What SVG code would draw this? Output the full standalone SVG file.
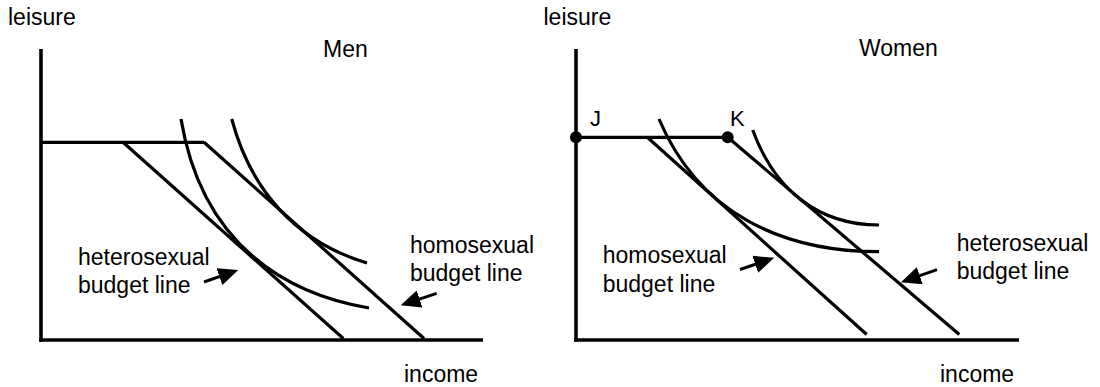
<svg xmlns="http://www.w3.org/2000/svg" width="1100" height="387" viewBox="0 0 1100 387">
<style>
  text { font-family: "Liberation Sans", Arial, Helvetica, sans-serif; font-size: 23px; fill: #000; }
  .pt { font-size: 22px; }
  .axis { stroke: #000; stroke-width: 3.6; fill: none; }
  .line { stroke: #000; stroke-width: 3.2; fill: none; }
  .curve { stroke: #000; stroke-width: 3.2; fill: none; }
  .arrow { stroke: #000; stroke-width: 3; fill: none; marker-end: url(#head); }
</style>
<defs>
  <marker id="head" markerUnits="userSpaceOnUse" viewBox="0 0 20 18" refX="9" refY="9" markerWidth="20" markerHeight="18" orient="auto">
    <path d="M0,0 L20,9 L0,18 z" fill="#000"/>
  </marker>
</defs>
<rect width="1100" height="387" fill="#fff"/>

<!-- Men chart -->
<g id="men-chart">
  <g id="men-axes">
    <line class="axis" x1="41" y1="49" x2="41" y2="341.8"/>
    <line class="axis" x1="39.2" y1="340" x2="483" y2="340"/>
    <text x="8" y="25">leisure</text>
    <text x="404" y="382">income</text>
    <text x="323" y="57">Men</text>
  </g>
  <g id="men-budget">
    <line class="line" x1="41" y1="142.3" x2="204" y2="142.3"/>
    <line class="line" x1="123" y1="142.3" x2="343.3" y2="338.5"/>
    <line class="line" x1="204" y1="142.3" x2="424" y2="338.5"/>
  </g>
  <g id="men-curves">
    <path class="curve" d="M181,119 C202.3,247.2 289,294.6 369,308"/>
    <path class="curve" d="M231.7,119 C251.1,191.5 297,242 367,263"/>
  </g>
  <g id="men-het-label">
    <text x="78" y="265">heterosexual</text>
    <text x="78" y="293">budget line</text>
  </g>
  <g id="men-homo-label">
    <text x="410" y="253">homosexual</text>
    <text x="410" y="281">budget line</text>
  </g>
</g>

<!-- Women chart -->
<g id="women-chart">
  <g id="women-axes">
    <line class="axis" x1="576" y1="49" x2="576" y2="341.8"/>
    <line class="axis" x1="574.2" y1="340" x2="1019" y2="340"/>
    <text x="543.5" y="25">leisure</text>
    <text x="940" y="382">income</text>
    <text x="859" y="56">Women</text>
  </g>
  <g id="women-budget">
    <line class="line" x1="576" y1="137.3" x2="727.7" y2="137.3"/>
    <line class="line" x1="647.3" y1="137.3" x2="866.7" y2="334.5"/>
    <line class="line" x1="727.7" y1="137.3" x2="959.3" y2="334.5"/>
  </g>
  <g id="point-J">
    <circle cx="576" cy="137.3" r="6" fill="#000"/>
    <text class="pt" x="590" y="126">J</text>
  </g>
  <g id="point-K">
    <circle cx="727.7" cy="137.3" r="6" fill="#000"/>
    <text class="pt" x="730" y="126">K</text>
  </g>
  <g id="women-curves">
    <path class="curve" d="M659,119 C698,211 779,251.7 879,251.7"/>
    <path class="curve" d="M752.7,130 C775,191 819,225 879,225"/>
  </g>
  <g id="women-homo-label">
    <text x="602.7" y="263.3">homosexual</text>
    <text x="602.7" y="292.3">budget line</text>
  </g>
  <g id="women-het-label">
    <text x="956.7" y="250.7">heterosexual</text>
    <text x="956.7" y="279">budget line</text>
  </g>
</g>

<g id="connectors">
  <line class="arrow" x1="204" y1="282" x2="227.9" y2="273.6"/>
  <line class="arrow" x1="436.7" y1="293.3" x2="411.1" y2="301.8"/>
  <line class="arrow" x1="740" y1="269.5" x2="763.7" y2="261.4"/>
  <line class="arrow" x1="937" y1="269.6" x2="911.3" y2="278.7"/>
</g>
</svg>
